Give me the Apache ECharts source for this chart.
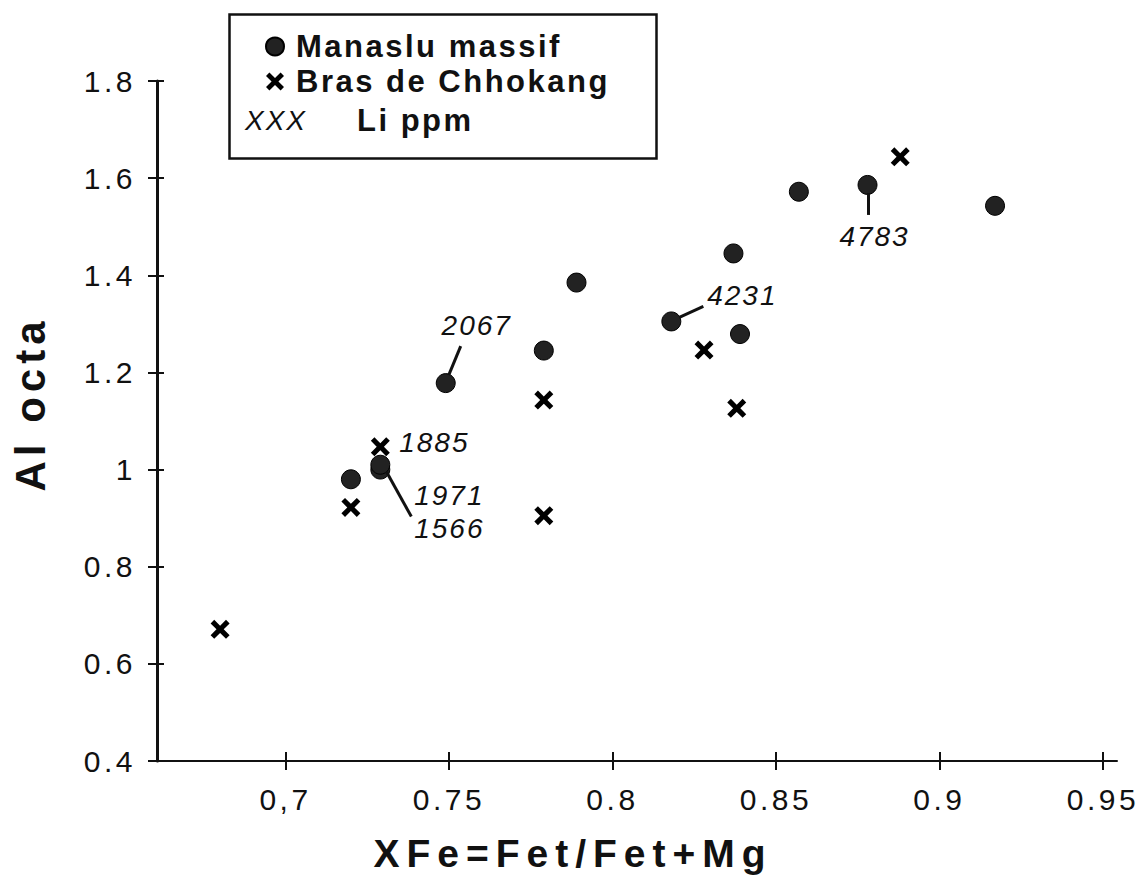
<!DOCTYPE html>
<html><head><meta charset="utf-8">
<style>
html,body{margin:0;padding:0;background:#fff}
#chart{width:1142px;height:881px}
#chart text[style*="30px"]{letter-spacing:3.5px}
#chart text[style*="31px"]{letter-spacing:2.5px}
#chart text[style*="28px"]{letter-spacing:2px}
#chart text[style*="39px"]{letter-spacing:7px}
#chart text[style*="42px"]{letter-spacing:5px}
</style>
<script src="https://cdn.jsdelivr.net/npm/echarts@6/dist/echarts.min.js"></script>
</head><body><div id="chart"></div>
<script>
// ---- data ----
const manasluX  = [0.72, 0.729, 0.729, 0.749, 0.779, 0.789, 0.818, 0.839, 0.837, 0.857, 0.878, 0.917];
const manasluY  = [0.98, 1.00, 1.01, 1.178, 1.245, 1.385, 1.305, 1.279, 1.445, 1.572, 1.586, 1.543];
const manasluLi = [null, '1566', '1971', '2067', null, null, '4231', null, null, null, '4783', null];

const chhokangX  = [0.68, 0.72, 0.729, 0.779, 0.779, 0.828, 0.838, 0.888];
const chhokangY  = [0.671, 0.922, 1.047, 1.143, 0.905, 1.246, 1.126, 1.644];
const chhokangLi = [null, null, '1885', null, null, null, null, null];

const xTicks = [0.7, 0.75, 0.8, 0.85, 0.9, 0.95];
const xTickLabels = ['0,7', '0.75', '0.8', '0.85', '0.9', '0.95'];
const seriesNames = ['Manaslu massif', 'Bras de Chhokang'];
const xTitle = 'XFe=Fet/Fet+Mg';
const yTitle = 'Al octa';
const keyRow = ['XXX', 'Li ppm'];

// ---- styling (pixel offsets of Li annotations relative to their point) ----
const ANNOT_STYLE = {
  '2067': {label: [31, -58], line: [[3, -8], [15, -37]]},
  '4231': {label: [71, -26], line: [[8, -4], [32, -15]]},
  '4783': {label: [7, 52],   line: [[1, 8], [1, 30]]},
  '1885': {label: [54, -4]},
  '1971': {label: [69, 31]},
  '1566': {label: [69, 59],  line: [[6, 2], [31, 47]]}
};
const FONT = '"Liberation Sans", Arial, Helvetica, sans-serif';
const X_MIN = 0.6607, X_MAX = 0.9543;
const CROSS = 'path://M1.9,0 L5,3.1 L8.1,0 L10,1.9 L6.9,5 L10,8.1 L8.1,10 L5,6.9 L1.9,10 L0,8.1 L3.1,5 L0,1.9 Z';

const annotPts = [], annotTxt = [];
manasluX.forEach((x, i) => { if (manasluLi[i]) { annotPts.push([x, manasluY[i]]); annotTxt.push(manasluLi[i]); } });
chhokangX.forEach((x, i) => { if (chhokangLi[i]) { annotPts.push([x, chhokangY[i]]); annotTxt.push(chhokangLi[i]); } });

const chart = echarts.init(document.getElementById('chart'), null, {renderer: 'svg'});
const tickLabelFmt = v => { const k = xTicks.findIndex(t => Math.abs(t - v) < 1e-6); return k >= 0 ? xTickLabels[k] : ''; };

chart.setOption({
  animation: false,
  backgroundColor: '#fff',
  grid: {left: 157, right: 25, top: 81, bottom: 120, containLabel: false, outerBoundsMode: 'none'},
  xAxis: [{
    type: 'value', min: X_MIN, max: X_MAX, position: 'bottom',
    name: xTitle, nameLocation: 'middle', nameGap: 73,
    nameTextStyle: {fontFamily: FONT, fontSize: 39, fontWeight: 'bold', color: '#111', padding: [0, 128, 0, 0]},
    axisLine: {show: true, onZero: false, lineStyle: {color: '#111', width: 2}},
    axisTick: {show: true, customValues: xTicks, length: 9, lineStyle: {color: '#111', width: 2}},
    axisLabel: {customValues: xTicks, formatter: tickLabelFmt, margin: 23, fontFamily: FONT, fontSize: 30, color: '#111'},
    splitLine: {show: false}
  }, {
    type: 'value', min: X_MIN, max: X_MAX, position: 'bottom',
    axisLine: {show: false}, axisLabel: {show: false}, splitLine: {show: false},
    axisTick: {show: true, inside: true, customValues: xTicks, length: 9, lineStyle: {color: '#111', width: 2}}
  }],
  yAxis: [{
    type: 'value', min: 0.4, max: 1.8, interval: 0.2, position: 'left',
    name: yTitle, nameLocation: 'middle', nameGap: 106, nameRotate: 90,
    nameTextStyle: {fontFamily: FONT, fontSize: 42, fontWeight: 'bold', color: '#111', padding: [0, 0, 0, 34]},
    axisLine: {show: true, onZero: false, lineStyle: {color: '#111', width: 3}},
    axisTick: {show: true, length: 9, lineStyle: {color: '#111', width: 2}},
    axisLabel: {margin: 21, fontFamily: FONT, fontSize: 30, color: '#111'},
    splitLine: {show: false}
  }, {
    type: 'value', min: 0.4, max: 1.8, interval: 0.2, position: 'left',
    axisLine: {show: false}, axisLabel: {show: false}, splitLine: {show: false},
    axisTick: {show: true, inside: true, length: 7, lineStyle: {color: '#111', width: 2}}
  }],
  legend: {
    left: 265, top: 31, padding: 0, orient: 'vertical', itemGap: 4, itemWidth: 18, itemHeight: 18,
    data: seriesNames,
    textStyle: {fontFamily: FONT, fontSize: 31, fontWeight: 'bold', color: '#111', lineHeight: 31, padding: [0, 0, 0, 7]}
  },
  graphic: [
    {type: 'rect', left: 227, top: 12, shape: {width: 427, height: 144},
     style: {fill: 'none', stroke: '#111', lineWidth: 2.5}, z: 10},
    {type: 'text', left: 245, top: 106, style: {text: keyRow[0], fontFamily: FONT, fontSize: 28, fontStyle: 'italic', fill: '#111'}, z: 10},
    {type: 'text', left: 357, top: 105, style: {text: keyRow[1], fontFamily: FONT, fontSize: 31, fontWeight: 'bold', fill: '#111'}, z: 10}
  ],
  series: [{
    name: seriesNames[0], type: 'scatter', symbol: 'circle', symbolSize: 19,
    itemStyle: {color: '#222', borderColor: '#000', borderWidth: 1, opacity: 1},
    data: manasluX.map((x, i) => [x, manasluY[i]]), z: 3
  }, {
    name: seriesNames[1], type: 'scatter', symbol: CROSS, symbolSize: 19,
    itemStyle: {color: '#000', opacity: 1},
    data: chhokangX.map((x, i) => [x, chhokangY[i]]), z: 4
  }, {
    type: 'custom', name: 'Li', silent: true, z: 5,
    data: annotPts,
    renderItem: (params, api) => {
      const p = api.coord([api.value(0), api.value(1)]);
      const key = annotTxt[params.dataIndex];
      const s = ANNOT_STYLE[key];
      const children = [{
        type: 'text', x: p[0] + s.label[0], y: p[1] + s.label[1],
        style: {text: key, fontFamily: FONT, fontSize: 28, fontStyle: 'italic', fill: '#111', align: 'center', verticalAlign: 'middle'}
      }];
      if (s.line) children.push({
        type: 'line',
        shape: {x1: p[0] + s.line[0][0], y1: p[1] + s.line[0][1], x2: p[0] + s.line[1][0], y2: p[1] + s.line[1][1]},
        style: {stroke: '#111', lineWidth: 3}
      });
      return {type: 'group', children};
    }
  }]
});
</script>
</body></html>
